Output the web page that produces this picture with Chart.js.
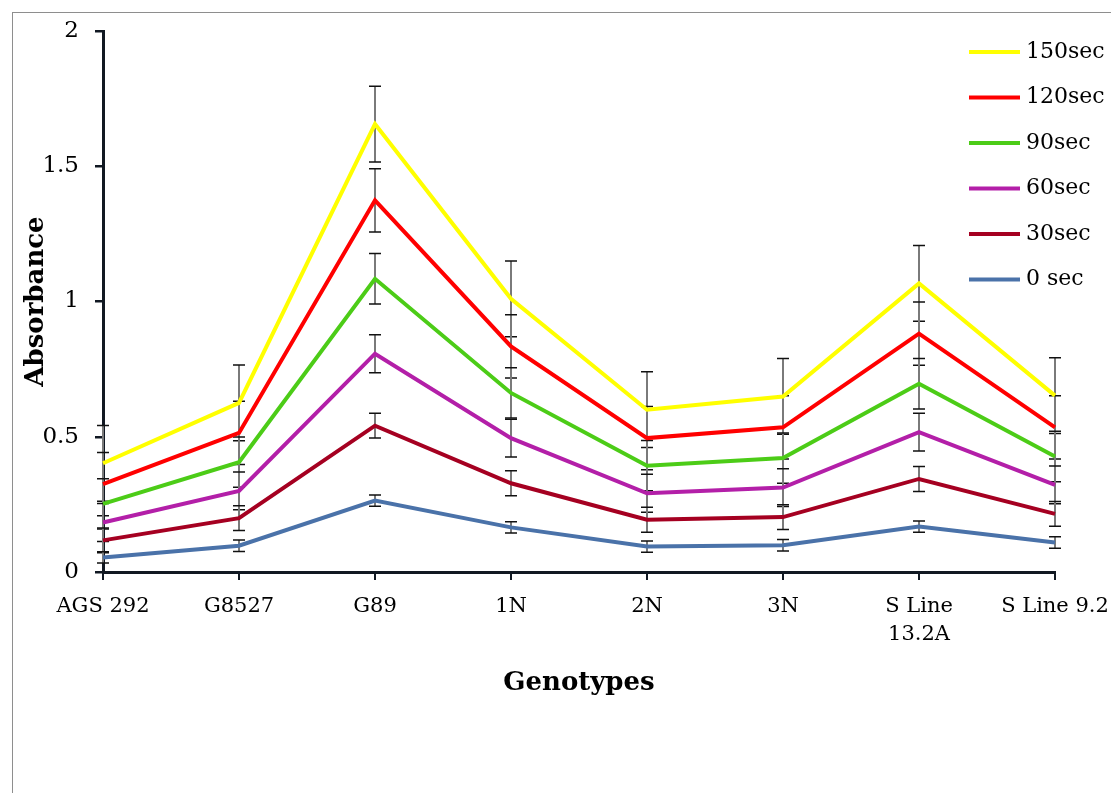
<!DOCTYPE html>
<html>
<head>
<meta charset="utf-8">
<title>Absorbance by genotype</title>
<script src="https://cdn.jsdelivr.net/npm/chart.js@4.4.1/dist/chart.umd.min.js"></script>
<style>
    html, body { margin: 0; padding: 0; background: #fff; overflow: hidden; }
    #frame {
        position: absolute; left: 12px; top: 12px;
        width: 1300px; height: 1000px;
        border: 1px solid #8e8e8e;
    }
    #absorbanceChart { position: absolute; left: 0; top: 0; }
</style>
</head>
<body>
<div id="frame"></div>
<canvas id="absorbanceChart" width="1111" height="793"></canvas>

<script>
// ── Datos ───────────────────────────────────────────────────────────
const genotypes = ['AGS 292', 'G8527', 'G89', '1N', '2N', '3N', ['S Line', '13.2A'], 'S Line 9.2'];

const sec150 = [0.402, 0.625, 1.656, 1.010, 0.600, 0.649, 1.067, 0.652];
const sec120 = [0.325, 0.514, 1.374, 0.834, 0.495, 0.535, 0.881, 0.535];
const sec90  = [0.252, 0.406, 1.084, 0.662, 0.393, 0.421, 0.696, 0.427];
const sec60  = [0.183, 0.300, 0.807, 0.495, 0.291, 0.312, 0.517, 0.322];
const sec30  = [0.117, 0.199, 0.541, 0.328, 0.193, 0.203, 0.344, 0.215];
const sec0   = [0.054, 0.097, 0.264, 0.165, 0.094, 0.099, 0.168, 0.109];

// error estándar de cada serie (mismo valor en todos los puntos)
const err150 = 0.140;
const err120 = 0.117;
const err90  = 0.093;
const err60  = 0.070;
const err30  = 0.046;
const err0   = 0.021;

const seriesNames = ['150sec', '120sec', '90sec', '60sec', '30sec', '0 sec'];
const yTicks      = [0, 0.5, 1, 1.5, 2];

const FONT = "'DejaVu Serif', serif";
const AXIS_COLOR = '#111822';

// ── Barras de error ─────────────────────────────────────────────────
const errorBarPlugin = {
    id: 'errorBars',
    beforeDatasetsDraw(chart) {
        const { ctx, scales: { x, y } } = chart;
        ctx.save();
        chart.data.datasets.forEach(ds => {
            ds.data.forEach((v, i) => {
                const px  = x.getPixelForValue(i);
                const top = y.getPixelForValue(v + ds.errorBar);
                const bot = y.getPixelForValue(v - ds.errorBar);

                ctx.strokeStyle = '#7a7a7a';
                ctx.lineWidth = 2;
                ctx.beginPath();
                ctx.moveTo(px, top);
                ctx.lineTo(px, bot);
                ctx.stroke();

                ctx.strokeStyle = '#111';
                ctx.lineWidth = 1.5;
                ctx.beginPath();
                ctx.moveTo(px - 6, top); ctx.lineTo(px + 6, top);
                ctx.moveTo(px - 6, bot); ctx.lineTo(px + 6, bot);
                ctx.stroke();
            });
        });
        ctx.restore();
    }
};

// ── Leyenda dentro del área (como en Excel) ─────────────────────────
const insideLegendPlugin = {
    id: 'insideLegend',
    afterDraw(chart) {
        const ctx = chart.ctx;
        ctx.save();
        ctx.font = '22px ' + FONT;
        ctx.textBaseline = 'middle';
        ctx.fillStyle = '#000';
        chart.data.datasets.forEach((ds, i) => {
            const ly = 52 + i * 45.5;
            ctx.strokeStyle = ds.borderColor;
            ctx.lineWidth = 4;
            ctx.beginPath();
            ctx.moveTo(969, ly);
            ctx.lineTo(1020, ly);
            ctx.stroke();
            ctx.fillText(ds.label, 1026, ly);
        });
        ctx.restore();
    }
};

function makeSeries(label, data, color, errorBar) {
    return {
        label, data, errorBar,
        borderColor: color,
        backgroundColor: color,
        borderWidth: 4,
        pointRadius: 0,
        pointHoverRadius: 0,
        tension: 0,
        fill: false
    };
}

new Chart(document.getElementById('absorbanceChart'), {
    type: 'line',
    data: {
        labels: genotypes,
        datasets: [
            makeSeries(seriesNames[0], sec150, '#ffff00', err150),
            makeSeries(seriesNames[1], sec120, '#ff0000', err120),
            makeSeries(seriesNames[2], sec90,  '#4ccc17', err90),
            makeSeries(seriesNames[3], sec60,  '#b31fa8', err60),
            makeSeries(seriesNames[4], sec30,  '#a50021', err30),
            makeSeries(seriesNames[5], sec0,   '#4a72a9', err0)
        ]
    },
    options: {
        responsive: false,
        animation: false,
        layout: { padding: { left: 12, right: 56, top: 31, bottom: 80 } },
        plugins: {
            legend: { display: false },
            tooltip: { enabled: false }
        },
        scales: {
            x: {
                offset: false,
                grid: { drawOnChartArea: false, drawTicks: true, tickLength: 8, color: AXIS_COLOR, lineWidth: 2 },
                border: { display: true, color: AXIS_COLOR, width: 3 },
                ticks: {
                    color: '#000', padding: 13, maxRotation: 0, autoSkip: false,
                    font: { family: FONT, size: 21, lineHeight: 1.32 }
                },
                title: {
                    display: true, text: 'Genotypes', color: '#000',
                    font: { family: FONT, size: 26, weight: 'bold' },
                    padding: { top: 0, bottom: 14 }
                },
                afterFit(scale) {
                    scale.height = 141;
                    // las etiquetas extremas pueden salirse; el margen lo da layout.padding
                    scale.paddingLeft = 0;
                    scale.paddingRight = 0;
                }
            },
            y: {
                min: 0, max: 2,
                afterBuildTicks(scale) { scale.ticks = yTicks.map(v => ({ value: v })); },
                grid: { drawOnChartArea: false, drawTicks: true, tickLength: 8, color: AXIS_COLOR, lineWidth: 2.5 },
                border: { display: true, color: AXIS_COLOR, width: 3 },
                ticks: {
                    color: '#000', padding: 16,
                    font: { family: FONT, size: 23 },
                    callback: v => String(v)
                },
                title: {
                    display: true, text: 'Absorbance', color: '#000',
                    font: { family: FONT, size: 26, weight: 'bold' },
                    padding: { top: 9, bottom: 0 }
                },
                afterFit(scale) { scale.width = 91; }
            }
        }
    },
    plugins: [errorBarPlugin, insideLegendPlugin]
});
</script>
</body>
</html>
